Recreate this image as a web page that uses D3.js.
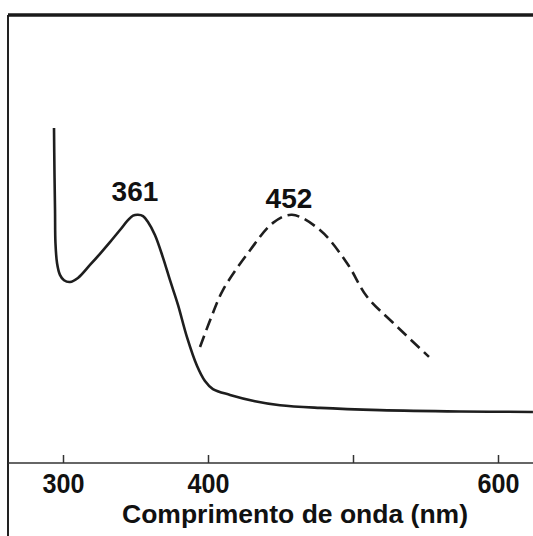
<!DOCTYPE html>
<head>
  <meta charset="utf-8">
  <title>Espectro de absorção</title>
  <script src="https://d3js.org/d3.v7.min.js"></script>
  <style>
    html, body { margin: 0; background: #fff; overflow: hidden; }
    svg { display: block; }
    text { font-family: "Liberation Sans", Arial, sans-serif; font-weight: bold; fill: #111; }
  </style>
</head>
<body>
  <div id="chart"></div>
  <script>
    // Curva contínua: comprimento de onda (nm) e absorvância (unidades arbitrárias)
    var solidWl = [293.8, 294.1, 294.5, 294.8, 295.9, 297.9, 300.7, 304.8, 310.3, 318.6, 325.5, 332.4,
                   339.3, 344.8, 348.3, 351.7, 355.2, 358.6, 363.4, 369.0, 373.8, 379.3, 385.5, 392.4,
                   397.9, 403.4, 415.2, 432.4, 449.7, 477.2, 518.6, 573.8, 624.1];
    var solidAbs = [0.748, 0.654, 0.565, 0.491, 0.446, 0.420, 0.408, 0.404, 0.413, 0.442, 0.467, 0.493,
                    0.520, 0.542, 0.552, 0.554, 0.551, 0.538, 0.509, 0.458, 0.408, 0.353, 0.281, 0.217,
                    0.183, 0.165, 0.152, 0.138, 0.129, 0.123, 0.118, 0.115, 0.114];

    // Curva tracejada
    var dashWl = [394.5, 402.1, 410.3, 429.0, 444.8, 457.9, 477.2, 495.9, 509.7, 527.6, 552.4];
    var dashAbs = [0.259, 0.324, 0.386, 0.475, 0.536, 0.554, 0.520, 0.446, 0.371, 0.313, 0.237];

    var xTicks = [300, 400, 500, 600];
    var xTickLabels = ['300', '400', '', '600'];
    var peakLabels = ['361', '452'];
    var xTitle = 'Comprimento de onda (nm)';

    var width = 533, height = 536;
    var frame = { left: 8, top: 15 };
    var axisY = 463;

    var x = d3.scaleLinear().domain([300, 600]).range([63, 498]);
    var y = d3.scaleLinear().domain([0, 1]).range([axisY, frame.top]);

    var svg = d3.select('#chart').append('svg')
      .attr('width', width)
      .attr('height', height);

    // Moldura (esquerda e topo)
    svg.append('line')
      .attr('x1', frame.left).attr('x2', frame.left)
      .attr('y1', frame.top).attr('y2', height)
      .attr('stroke', '#222').attr('stroke-width', 2);
    svg.append('line')
      .attr('x1', frame.left).attr('x2', width)
      .attr('y1', frame.top).attr('y2', frame.top)
      .attr('stroke', '#1a1a1a').attr('stroke-width', 3.5);

    // Eixo x
    var xAxis = d3.axisBottom(x)
      .tickValues(xTicks)
      .tickSizeInner(-8)
      .tickSizeOuter(0)
      .tickFormat(function (d, i) { return xTickLabels[i]; });

    var gx = svg.append('g')
      .attr('transform', 'translate(0,' + axisY + ')')
      .call(xAxis);
    gx.select('.domain').remove();
    gx.insert('line', ':first-child')
      .attr('x1', frame.left).attr('x2', width)
      .attr('y1', 0).attr('y2', 0)
      .attr('stroke', '#333').attr('stroke-width', 1.5);
    gx.selectAll('.tick line').attr('stroke', '#333').attr('stroke-width', 1.5);
    gx.selectAll('.tick text')
      .attr('y', 30)
      .attr('dy', null)
      .attr('font-size', 27)
      .attr('font-family', '"Liberation Sans", Arial, sans-serif')
      .attr('font-weight', 'bold')
      .attr('fill', '#111')
      .attr('textLength', function (d, i) { return xTickLabels[i] ? 42 : null; })
      .attr('lengthAdjust', 'spacingAndGlyphs');

    // Título do eixo
    svg.append('text')
      .attr('x', 122)
      .attr('y', 523)
      .attr('font-size', 25)
      .attr('textLength', 346)
      .attr('lengthAdjust', 'spacingAndGlyphs')
      .text(xTitle);

    var line = d3.line()
      .x(function (d) { return x(d[0]); })
      .y(function (d) { return y(d[1]); })
      .curve(d3.curveCatmullRom.alpha(0.5));

    var solid = d3.zip(solidWl, solidAbs);
    var dashed = d3.zip(dashWl, dashAbs);

    svg.append('path')
      .datum(solid)
      .attr('d', line)
      .attr('fill', 'none')
      .attr('stroke', '#1e1e1e')
      .attr('stroke-width', 2.6)
      .attr('stroke-linejoin', 'round');

    svg.append('path')
      .datum(dashed)
      .attr('d', line)
      .attr('fill', 'none')
      .attr('stroke', '#1e1e1e')
      .attr('stroke-width', 2.6)
      .attr('stroke-dasharray', '12,6');

    // Rótulos dos máximos (máximo local da banda, ignorando a subida abaixo de 320 nm)
    var peaks = [solid.filter(function (d) { return d[0] > 320; }), dashed].map(function (s) {
      return s[d3.maxIndex(s, function (d) { return d[1]; })];
    });
    var peakDy = [-14, -7];
    svg.selectAll('.peak')
      .data(peaks)
      .enter()
      .append('text')
        .attr('class', 'peak')
        .attr('x', function (d) { return x(d[0]) - 3; })
        .attr('y', function (d, i) { return y(d[1]) + peakDy[i]; })
        .attr('text-anchor', 'middle')
        .attr('font-size', 28)
        .text(function (d, i) { return peakLabels[i]; });
  </script>
</body>
